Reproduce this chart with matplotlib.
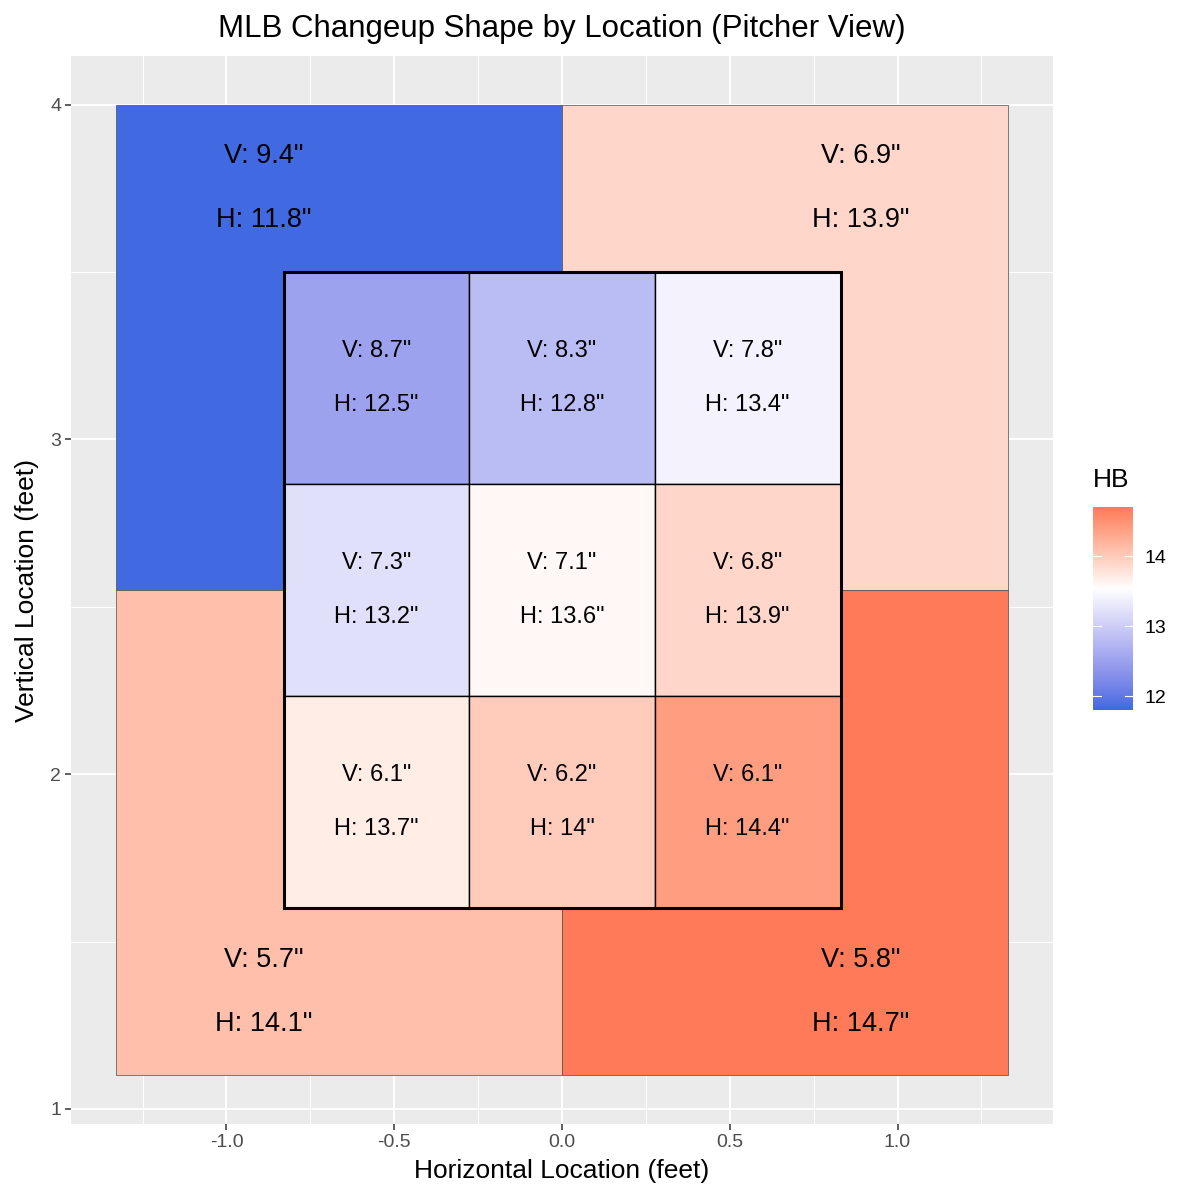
import numpy as np
import matplotlib
matplotlib.use("Agg")
import matplotlib.pyplot as plt
from matplotlib.patches import Rectangle
from matplotlib.colors import ListedColormap, Normalize, to_rgb

plt.rcParams['font.family'] = ['Liberation Sans', 'DejaVu Sans']

# strike zone cells, top row first, left to right (pitcher view)
inner_v = [[8.7, 8.3, 7.8],
           [7.3, 7.1, 6.8],
           [6.1, 6.2, 6.1]]
inner_h = [[12.5, 12.8, 13.4],
           [13.2, 13.6, 13.9],
           [13.7, 14.0, 14.4]]
# outside zones: top-left, top-right, bottom-left, bottom-right
outer_v = [9.4, 6.9, 5.7, 5.8]
outer_h = [11.8, 13.9, 14.1, 14.7]

x_ticks = [-1.0, -0.5, 0.0, 0.5, 1.0]
y_ticks = [1, 2, 3, 4]
cbar_ticks = [12, 13, 14]


# --- colour scale like scale_fill_gradient2 (Lab interpolation) ---
def srgb_to_lab(c):
    c = np.asarray(c, float)
    lin = np.where(c <= 0.04045, c / 12.92, ((c + 0.055) / 1.055) ** 2.4)
    m = np.array([[0.4124, 0.3576, 0.1805],
                  [0.2126, 0.7152, 0.0722],
                  [0.0193, 0.1192, 0.9505]])
    xyz = m @ lin / np.array([0.95047, 1.0, 1.08883])
    f = np.where(xyz > 0.008856, np.cbrt(xyz), 7.787 * xyz + 16 / 116)
    return np.array([116 * f[1] - 16, 500 * (f[0] - f[1]), 200 * (f[1] - f[2])])


def lab_to_srgb(lab):
    L, a, b = lab
    fy = (L + 16) / 116
    fx = fy + a / 500
    fz = fy - b / 200
    f = np.array([fx, fy, fz])
    xyz = np.where(f ** 3 > 0.008856, f ** 3, (f - 16 / 116) / 7.787)
    xyz = xyz * np.array([0.95047, 1.0, 1.08883])
    minv = np.array([[3.2406, -1.5372, -0.4986],
                     [-0.9689, 1.8758, 0.0415],
                     [0.0557, -0.2040, 1.0570]])
    lin = minv @ xyz
    c = np.where(lin <= 0.0031308, 12.92 * lin, 1.055 * np.abs(lin) ** (1 / 2.4) - 0.055)
    return np.clip(c, 0, 1)


low, mid, high = srgb_to_lab(to_rgb('royalblue')), srgb_to_lab((1, 1, 1)), srgb_to_lab(to_rgb('#FF7A58'))
all_h = np.concatenate([np.ravel(inner_h), outer_h])
vmin, vmax, vmid = all_h.min(), all_h.max(), all_h.mean()

n = 512
vals = np.linspace(vmin, vmax, n)
cols = []
for v in vals:
    if v < vmid:
        t = (v - vmin) / (vmid - vmin)
        cols.append(lab_to_srgb(low + (mid - low) * t))
    else:
        t = (v - vmid) / (vmax - vmid)
        cols.append(lab_to_srgb(mid + (high - mid) * t))
cmap = ListedColormap(cols)
norm = Normalize(vmin, vmax)

fig = plt.figure(figsize=(12, 12), dpi=100)
ax = fig.add_axes([0.0592, 0.0633, 0.8183, 0.89])
ax.set_facecolor('#EBEBEB')

# outer zones
ox = [-1.33, 0.0, 1.33]
oy = [1.1, 2.55, 4.0]
outer_cells = [(0, 1), (1, 1), (0, 0), (1, 0)]
label_x = [-0.89, 0.89]
for k, (i, j) in enumerate(outer_cells):
    ax.add_patch(Rectangle((ox[i], oy[j]), ox[i + 1] - ox[i], oy[j + 1] - oy[j],
                           facecolor=cmap(norm(outer_h[k])), edgecolor='#4D4D4D',
                           linewidth=0.5, zorder=2))
    yc = 3.75 if j == 1 else 1.35
    ax.text(label_x[i], yc + 0.095, f'V: {outer_v[k]:g}"', ha='center', va='center',
            fontsize=19.5, zorder=5)
    ax.text(label_x[i], yc - 0.095, f'H: {outer_h[k]:g}"', ha='center', va='center',
            fontsize=19.5, zorder=5)

# strike zone grid
ix = np.linspace(-0.83, 0.83, 4)
iy = np.linspace(3.5, 1.6, 4)
for r in range(3):
    for c in range(3):
        x0, y0 = ix[c], iy[r + 1]
        w, h = ix[c + 1] - ix[c], iy[r] - iy[r + 1]
        ax.add_patch(Rectangle((x0, y0), w, h, facecolor=cmap(norm(inner_h[r][c])),
                               edgecolor='black', linewidth=1.0, zorder=3))
        ax.text(x0 + w / 2, y0 + h / 2 + 0.08, f'V: {inner_v[r][c]:g}"', ha='center',
                va='center', fontsize=17, zorder=5)
        ax.text(x0 + w / 2, y0 + h / 2 - 0.08, f'H: {inner_h[r][c]:g}"', ha='center',
                va='center', fontsize=17, zorder=5)
ax.add_patch(Rectangle((-0.83, 1.6), 1.66, 1.9, fill=False, edgecolor='black',
                       linewidth=2.2, zorder=4))

ax.set_xlim(-1.4633, 1.4633)
ax.set_ylim(0.955, 4.145)
ax.set_xticks(x_ticks)
ax.set_xticklabels([f'{t:.1f}' for t in x_ticks])
ax.set_yticks(y_ticks)
ax.set_xticks([-1.25, -0.75, -0.25, 0.25, 0.75, 1.25], minor=True)
ax.set_yticks([1.5, 2.5, 3.5], minor=True)
ax.grid(which='major', color='white', linewidth=1.4, zorder=0)
ax.grid(which='minor', color='white', linewidth=0.7, zorder=0)
ax.set_axisbelow(True)
ax.tick_params(which='major', length=4, width=1.1, color='#333333',
               labelsize=14, labelcolor='#4D4D4D', pad=3)
ax.tick_params(which='minor', length=0)
for s in ax.spines.values():
    s.set_visible(False)

ax.set_xlabel('Horizontal Location (feet)', fontsize=19, labelpad=6)
ax.set_ylabel('Vertical Location (feet)', fontsize=19, labelpad=8)
ax.set_title('MLB Changeup Shape by Location (Pitcher View)', fontsize=22.5, pad=14)

# legend colour bar
cax = fig.add_axes([0.9108, 0.4083, 0.0333, 0.169])
grad = np.linspace(vmin, vmax, 300).reshape(-1, 1)
cax.imshow(grad, aspect='auto', origin='lower', cmap=cmap, norm=norm,
           extent=[0, 1, vmin, vmax])
for t in cbar_ticks:
    cax.plot([0, 0.2], [t, t], color='white', linewidth=0.8)
    cax.plot([0.8, 1], [t, t], color='white', linewidth=0.8)
cax.set_xlim(0, 1)
cax.set_ylim(vmin, vmax)
cax.set_xticks([])
cax.yaxis.tick_right()
cax.set_yticks(cbar_ticks)
cax.tick_params(length=0, labelsize=14, pad=8)
for s in cax.spines.values():
    s.set_visible(False)
fig.text(0.9108, 0.59, 'HB', fontsize=19, ha='left', va='bottom')

fig.savefig('out.png', dpi=100)
